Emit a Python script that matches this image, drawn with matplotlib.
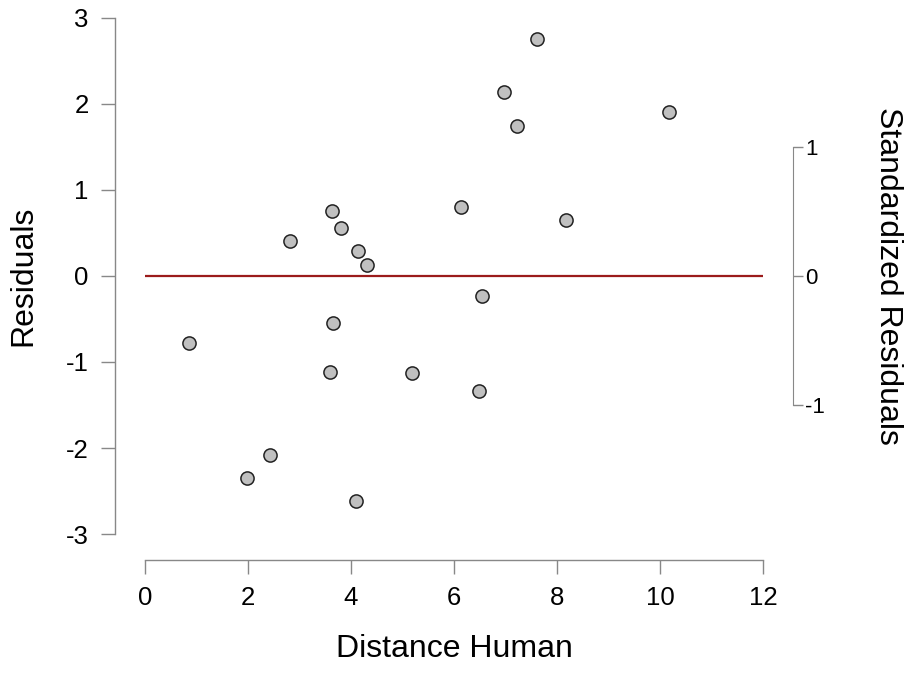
import matplotlib
matplotlib.use("Agg")
import matplotlib.pyplot as plt

plt.rcParams['font.family'] = ['Liberation Sans', 'DejaVu Sans']
plt.rcParams['axes.unicode_minus'] = False

# residuals vs predictor
distance_human = [0.85, 1.98, 2.43, 2.82, 3.63, 3.81, 3.65, 3.59, 4.14, 4.31,
                  4.10, 5.18, 6.14, 6.54, 6.49, 6.97, 7.22, 7.61, 8.17, 10.17]
residuals = [-0.78, -2.35, -2.08, 0.41, 0.76, 0.56, -0.55, -1.12, 0.29, 0.13,
             -2.62, -1.13, 0.80, -0.23, -1.34, 2.14, 1.74, 2.76, 0.65, 1.91]
resid_sd = 1.5

x_ticks = [0, 2, 4, 6, 8, 10, 12]
y_ticks = [-3, -2, -1, 0, 1, 2, 3]
std_ticks = [-1, 0, 1]

W, H = 910, 673
fig = plt.figure(figsize=(W / 100, H / 100), dpi=100)
ax = fig.add_axes([145 / W, (H - 534) / H, (763 - 145) / W, (534 - 18) / H])

ax.plot([0, 12], [0, 0], color='#9b1b1b', lw=1.6, zorder=1)
ax.scatter(distance_human, residuals, s=90, facecolor='#c0c0c0',
           edgecolor='#222222', linewidth=1.1, zorder=3)

ax.set_xlim(0, 12)
ax.set_ylim(-3, 3)
ax.set_xticks(x_ticks)
ax.set_yticks(y_ticks)

spine_col = '#888888'
for side in ['top', 'right']:
    ax.spines[side].set_visible(False)
ax.spines['left'].set_position(('outward', 21.6))
ax.spines['bottom'].set_position(('outward', 18.7))
ax.spines['left'].set_bounds(-3, 3)
ax.spines['bottom'].set_bounds(0, 12)
for side in ['left', 'bottom']:
    ax.spines[side].set_color(spine_col)
    ax.spines[side].set_linewidth(1.0)
ax.tick_params(axis='both', length=10, width=1.0, color=spine_col,
               labelsize=18.5, pad=9)

ax.set_xlabel('Distance Human', fontsize=23, labelpad=17)
ax.set_ylabel('Residuals', fontsize=23, labelpad=20)

ax2 = ax.twinx()
ax2.set_ylim(-3 / resid_sd, 3 / resid_sd)
ax2.set_yticks(std_ticks)
for side in ['top', 'left', 'bottom']:
    ax2.spines[side].set_visible(False)
ax2.spines['right'].set_position(('outward', 21.6))
ax2.spines['right'].set_bounds(-1, 1)
ax2.spines['right'].set_color(spine_col)
ax2.tick_params(axis='y', length=7, width=1.0, color=spine_col,
                labelsize=16, pad=2)
ax2.set_ylabel('Standardized Residuals', fontsize=23, rotation=-90,
               labelpad=56)

fig.savefig('out.png', dpi=100)
